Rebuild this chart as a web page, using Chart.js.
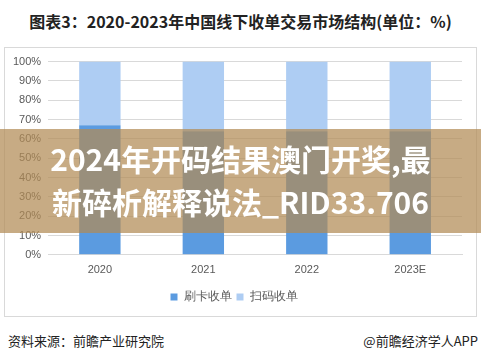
<!DOCTYPE html>
<html>
<head>
<meta charset="utf-8">
<script src="https://cdn.jsdelivr.net/npm/chart.js@4"></script>
<style>
  body { margin: 0; background: #fff; font-family: "Noto Sans CJK SC", sans-serif; }
  #wrap { position: relative; width: 481px; height: 360px; overflow: hidden; }
  #title { position: absolute; left: 0; width: 481px; top: 9px; text-align: center;
           font-size: 16px; font-weight: bold; color: #222; }
  #frame { position: absolute; left: 4px; top: 47px; width: 471px; height: 268px;
           border: 1px solid #d9d9d9; }
  #box { position: absolute; left: 5px; top: 48px; width: 470px; height: 266px; }
  #banner { position: absolute; left: 0; top: 129px; width: 481px; height: 104px;
            background: rgba(178, 138, 85, 0.72); color: #fff; text-align: center;
            font-weight: bold; font-size: 30px; line-height: 43px; padding-top: 8px;
            box-sizing: border-box; }
  #src { position: absolute; left: 8px; top: 331px; font-size: 13px; color: #222; }
  #app { position: absolute; right: 3px; top: 331px; font-size: 13px; color: #222; }
</style>
</head>
<body>
<div id="wrap">
  <div id="title">图表3：2020-2023年中国线下收单交易市场结构(单位：%)</div>
  <div id="frame"></div>
  <div id="box"><canvas id="chart"></canvas></div>
  <div id="banner">2024年开码结果澳门开奖,最<br>新碎析解释说法_RID33.706</div>
  <div id="src">资料来源：前瞻产业研究院</div>
  <div id="app">@前瞻经济学人APP</div>
</div>
<script>
const years = ['2020', '2021', '2022', '2023E'];
const cardShare = [67, 64, 64, 64];
const qrShare = [33, 36, 36, 36];
const yTicks = [0, 10, 20, 30, 40, 50, 60, 70, 80, 90, 100];

new Chart(document.getElementById('chart'), {
  type: 'bar',
  data: {
    labels: years,
    datasets: [
      { label: '刷卡收单', data: cardShare, backgroundColor: '#5b9be0', barPercentage: 0.8, categoryPercentage: 0.5 },
      { label: '扫码收单', data: qrShare, backgroundColor: '#aecdf3', barPercentage: 0.8, categoryPercentage: 0.5 }
    ]
  },
  options: {
    responsive: true,
    maintainAspectRatio: false,
    animation: false,
    layout: { padding: { top: 5, right: 13, left: 1, bottom: 1 } },
    plugins: {
      legend: {
        position: 'bottom',
        labels: { boxWidth: 7, boxHeight: 7, color: '#595959', font: { size: 12 }, padding: 5 }
      },
      tooltip: { enabled: false }
    },
    scales: {
      x: {
        stacked: true,
        grid: { display: false, drawTicks: false },
        border: { color: '#d9d9d9' },
        ticks: { color: '#595959', font: { size: 11 }, padding: 9 }
      },
      y: {
        stacked: true,
        min: 0,
        max: 100,
        afterBuildTicks: (axis) => { axis.ticks = yTicks.map(v => ({ value: v })); },
        grid: { color: '#d9d9d9', drawTicks: false },
        border: { display: false },
        ticks: { color: '#595959', font: { size: 11 }, padding: 7, callback: (v) => v + '%' }
      }
    }
  }
});
</script>
</body>
</html>
